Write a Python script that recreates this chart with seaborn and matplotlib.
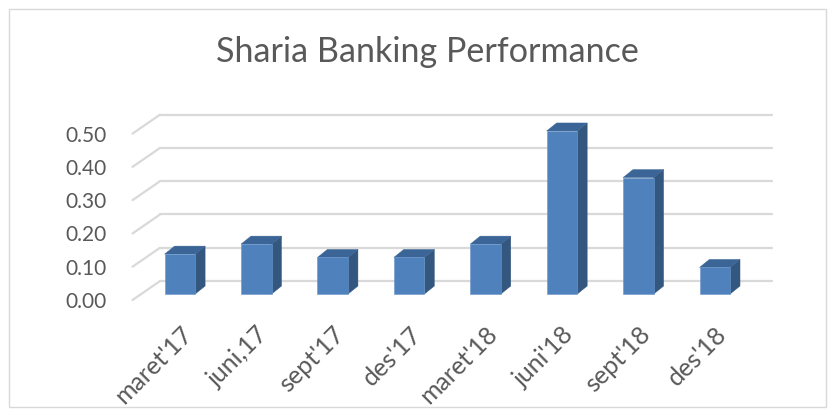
import numpy as np
import pandas as pd
import matplotlib
matplotlib.use("Agg")
import matplotlib.pyplot as plt
import matplotlib.transforms as mtransforms
from matplotlib.patches import Polygon, Rectangle
import seaborn as sns

# ========== Data ==========
periods = ["maret'17", "juni,17", "sept'17", "des'17", "maret'18", "juni'18", "sept'18", "des'18"]
performance = [0.12, 0.15, 0.11, 0.11, 0.15, 0.49, 0.35, 0.08]
y_ticks = [0.0, 0.1, 0.2, 0.3, 0.4, 0.5]

# colours (Excel-like 3D column)
FRONT = "#4F81BD"
SIDE = "#34577F"
TOP = "#3B6596"
GRID = "#D9D9D9"
TEXT = "#595959"

sns.set_style("white")
plt.rcParams["font.family"] = ["Lato", "DejaVu Sans"]

fig = plt.figure(figsize=(8.34, 4.16), dpi=100)
ax = fig.add_axes([118 / 834, 106 / 416, 682 / 834, 210 / 416])

# pseudo-3D offsets (data units)
depth_x, depth_y = 0.13, 0.024       # bar side/top depth
back_off, front_off = 0.039, 0.018   # grid back / front plane offsets
grid_x0, grid_x1, diag_x = -0.26, 7.75, -0.62

# gridlines: back wall + floor diagonals
for g in y_ticks:
    ax.plot([grid_x0, grid_x1], [g + back_off] * 2, color=GRID, lw=1.6, zorder=0)
    ax.plot([diag_x, grid_x0], [g - front_off, g + back_off], color=GRID, lw=1.6, zorder=0)

df = pd.DataFrame({"period": periods, "value": performance})
sns.barplot(data=df, x="period", y="value", color=FRONT, width=0.4,
            saturation=1, ax=ax, zorder=3, edgecolor="#6A96CC", linewidth=0.4)

# add side and top faces from the bar patches
for p in list(ax.patches):
    x0 = p.get_x()
    x1 = x0 + p.get_width()
    v = p.get_height()
    side = Polygon([(x1, 0), (x1 + depth_x, depth_y), (x1 + depth_x, v + depth_y), (x1, v)],
                   closed=True, facecolor=SIDE, edgecolor=SIDE, lw=0.3, zorder=2.9)
    top = Polygon([(x0, v), (x0 + depth_x, v + depth_y), (x1 + depth_x, v + depth_y), (x1, v)],
                  closed=True, facecolor=TOP, edgecolor=TOP, lw=0.3, zorder=2.9)
    ax.add_patch(side)
    ax.add_patch(top)

ax.set_xlim(-0.81, 8.115)
ax.set_ylim(-0.048, 0.583)

ax.set_yticks(np.array(y_ticks) - front_off)
ax.set_yticklabels([f"{t:.2f}" for t in y_ticks], fontsize=15, color=TEXT)
ax.set_xticks(range(len(periods)))
ax.set_xticklabels(periods, rotation=45, ha="right", rotation_mode="anchor",
                   fontsize=18, color=TEXT)
shift = mtransforms.ScaledTranslation(-6 / 100, 0, fig.dpi_scale_trans)
for lbl in ax.get_xticklabels():
    lbl.set_transform(lbl.get_transform() + shift)
ax.tick_params(axis="both", length=0)
ax.tick_params(axis="y", pad=8)
ax.tick_params(axis="x", pad=9)
ax.set_xlabel("")
ax.set_ylabel("")
for s in ax.spines.values():
    s.set_visible(False)

fig.text(0.512, 0.875, "Sharia Banking Performance", ha="center", va="center",
         fontsize=24.6, color=TEXT)

# chart border
fig.patches.append(Rectangle((9 / 834, 9 / 416), 817 / 834, 398 / 416,
                             transform=fig.transFigure, fill=False,
                             edgecolor="#D9D9D9", lw=1.0))

fig.savefig("out.png", dpi=100)
